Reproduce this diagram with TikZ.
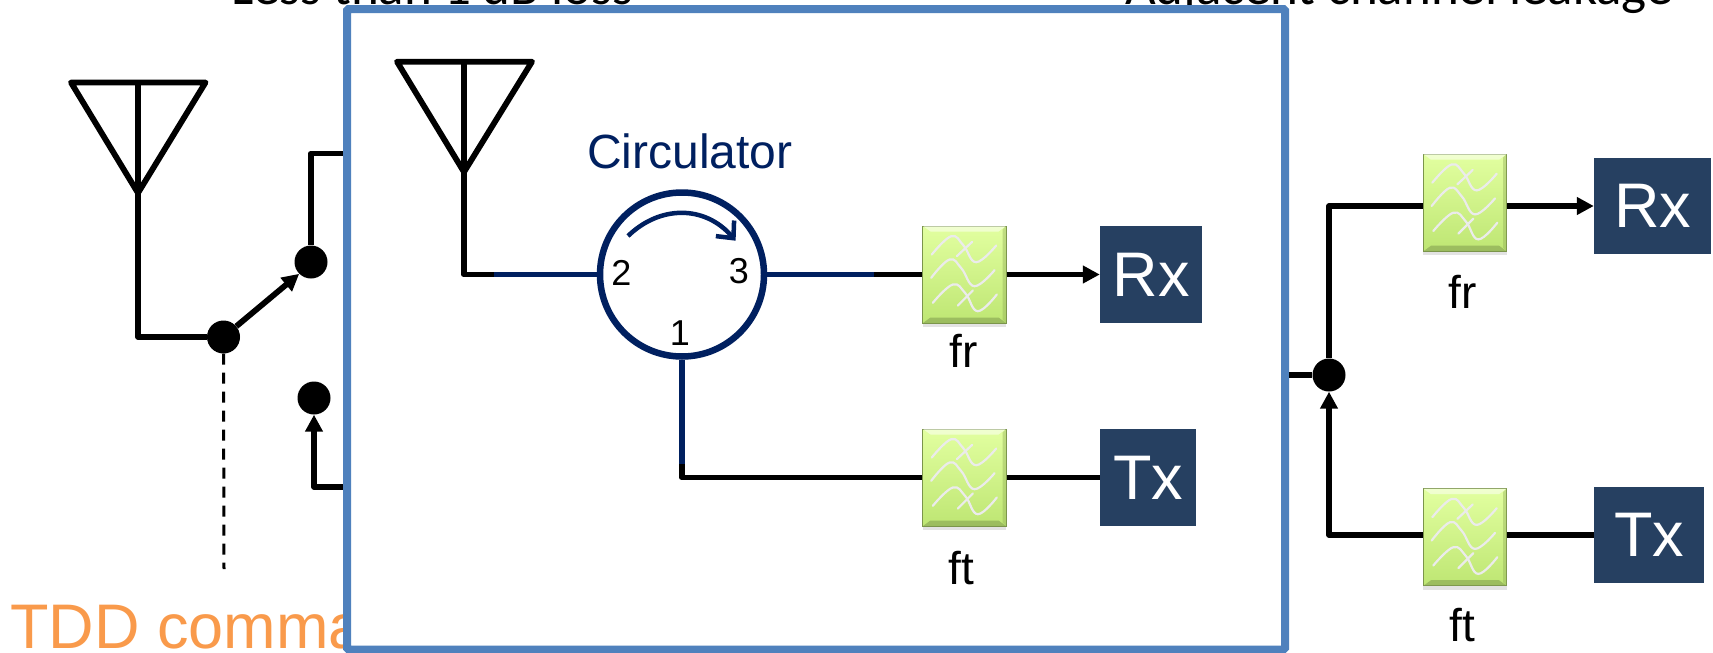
\documentclass[tikz,border=0pt]{standalone}
\usepackage{fontspec}
\setmainfont{Liberation Sans}
\newfontfamily\calibrilike{Carlito}
\usepackage{tikz}
\usetikzlibrary{arrows.meta, positioning, calc, shadows}
\definecolor{cBox}{RGB}{79,129,189}
\definecolor{cNavy}{RGB}{0,32,96}
\definecolor{cSlate}{RGB}{38,64,97}
\definecolor{cOrange}{RGB}{249,154,75}
\definecolor{cFilterTop}{RGB}{226,255,160}
\definecolor{cFilterBot}{RGB}{190,230,115}

\begin{document}
\begin{tikzpicture}[x=1pt, y=-1pt, >={Triangle[length=17pt, width=17pt]},
    wire/.style={line width=5.8pt, line join=round},
    dot/.style={circle, fill=black, inner sep=0pt, minimum size=33pt},
    antenna/.style={line width=5.8pt, line join=round},
    radio/.style={fill=cSlate, text=white, inner sep=0pt, font=\fontsize{63}{63}\selectfont},
    filterbox/.style={rectangle, minimum width=83.5pt, minimum height=97pt, inner sep=0pt,
        top color=cFilterTop, bottom color=cFilterBot, draw=black!35!cFilterBot, line width=0.8pt,
        drop shadow={shadow xshift=0pt, shadow yshift=-4pt, opacity=0.22}},
    wave/.style={draw=white!92!black, line width=2.2pt, line cap=round},
    lbl/.style={anchor=base, inner sep=0pt, font=\fontsize{46}{46}\selectfont},
    port/.style={anchor=base, inner sep=0pt, font=\fontsize{36}{36}\selectfont}]

    \useasboundingbox (0,0) rectangle (1713,653);

    % Headings cut by the top edge
    \node[anchor=base west, inner sep=0pt, font=\calibrilike\fontsize{53}{53}\selectfont] (headLoss) at (231,5) {Less than 1 dB loss};
    \node[anchor=base west, inner sep=0pt, font=\calibrilike\fontsize{53}{53}\selectfont] (headLeak) at (1125,5) {Adjacent channel leakage};

    % TDD switch on the left
    \coordinate (antL) at (138,193);
    \draw [antenna] (antL) -- (71,82.5) -- (205.5,82.5) -- cycle;
    \draw [antenna] (138,82.5) -- (antL);
    \node [dot] (swCom) at (223.5,337) {};
    \node [dot] (swUp) at (311,262) {};
    \node [dot] (swDown) at (314,398) {};
    \draw [wire] (antL) |- (swCom);
    \draw [wire, ->] (swCom) -- (swUp.south west);
    \coordinate (upEnd) at (347,153.5);
    \coordinate (downEnd) at (347,487);
    \draw [wire] (swUp) |- (upEnd);
    \draw [wire, ->] (downEnd) -| (swDown.south);
    \coordinate (cmdEnd) at (224,569);
    \draw [line width=3pt, dash pattern=on 11pt off 8pt] (swCom.south) -- (cmdEnd);
    \node[anchor=base west, inner sep=0pt, text=cOrange, font=\fontsize{63}{63}\selectfont] (cmdText) at (10,648) {TDD command};

    % Main Box
    \draw [draw=cBox, fill=white, line width=8pt, rounded corners=1.5pt,
        drop shadow={shadow xshift=0pt, shadow yshift=-1.5pt, opacity=0.3}] (347,9) rectangle (1285,649.5);

    % Loop to create the 4 filters with their labels
    \foreach \name/\px/\py/\lx/\ly/\txt in {
        frIn/964.5/274.5/964/367/fr,
        ftIn/964.5/477.5/961/584/ft,
        frOut/1465/202.7/1463/308/fr,
        ftOut/1465/537.2/1462/641.7/ft
    } {
        \node [filterbox] (\name) at (\px,\py) {};
        \begin{scope}[shift={(\px,\py)}]
            % Bevel
            \fill [white, opacity=0.5] (-41.5,-48.5) -- (41.5,-48.5) -- (34,-43) -- (-34,-43) -- cycle;
            \fill [black!30!cFilterBot, opacity=0.6] (-41.5,48.5) -- (41.5,48.5) -- (34,43) -- (-34,43) -- cycle;
            \fill [black!25!cFilterBot, opacity=0.4] (41.5,-48.5) -- (41.5,48.5) -- (38,45) -- (38,-45) -- cycle;
            % Three pass bands
            \draw [wave] plot[smooth, tension=0.7] coordinates {(-32.7,-20) (-13.3,-38.3) (-1,-29) (11.7,-12.3) (31.7,-29)};
            \draw [wave] (-7.7,-18.3) -- (7.7,-32.7);
            \draw [wave] plot[smooth, tension=0.7] coordinates {(-33.3,3.3) (-15,-15) (-3,-6) (10,11.7) (30,-4.3)};
            \draw [wave] plot[smooth, tension=0.7] coordinates {(-31.7,28.3) (-11.7,10) (1,19) (13.3,36.7) (32.3,20)};
            \draw [wave] (-6.7,31) -- (8.3,16);
        \end{scope}
        \node [lbl] (\name Lbl) at (\lx,\ly) {\txt};
    }

    % Radios
    \node [radio, minimum width=102pt, minimum height=97pt] (rxIn) at (1151,274.5) {Rx};
    \node [radio, minimum width=96pt, minimum height=97pt] (txIn) at (1148,477.5) {Tx};
    \node [radio, minimum width=117pt, minimum height=96pt] (rxOut) at (1652.5,206) {Rx};
    \node [radio, minimum width=110pt, minimum height=96pt] (txOut) at (1649,535) {Tx};

    % Circulator
    \node [circle, draw=cNavy, fill=white, line width=6.5pt, minimum size=164pt, inner sep=0pt,
        drop shadow={shadow xshift=0pt, shadow yshift=-3pt, opacity=0.22}] (circ) at (682,274.5) {};
    \node [anchor=base, inner sep=0pt, text=cNavy, font=\fontsize{48}{48}\selectfont] (circText) at (690,168) {Circulator};
    \node [port] (portTwo) at (621.5,285) {2};
    \node [port] (portThree) at (739,283) {3};
    \node [port] (portOne) at (680,345) {1};
    \coordinate (spinA) at (628,236);
    \coordinate (spinB) at (735.6,240.7);
    \draw [cNavy, line width=4.5pt, -{Straight Barb[length=13pt, width=24pt]}] (spinA) .. controls (660,205) and (705,205) .. (spinB);

    % Antenna of the inner picture
    \coordinate (antC) at (464,172);
    \draw [antenna] (antC) -- (397,61.7) -- (532,61.7) -- cycle;
    \draw [antenna] (464,61.7) -- (antC);

    % Wires of the inner picture
    \coordinate (antTurn) at (464,274.5);
    \coordinate (navyA) at (494,274.5);
    \coordinate (navyB) at (874,274.5);
    \coordinate (navyC) at (682,464);
    \draw [wire] (antC) -- (antTurn) -- (navyA);
    \draw [wire, cNavy] (navyA) -- (circ.west);
    \draw [wire, cNavy] (circ.east) -- (navyB);
    \draw [wire] (navyB) -- (frIn.west);
    \draw [wire, ->] (frIn.east) -- (rxIn.west);
    \draw [wire, cNavy] (circ.south) -- (navyC);
    \draw [wire] (navyC) |- (ftIn.west);
    \draw [wire] (ftIn.east) -- (txIn.west);

    % Duplexer on the right
    \node [dot] (joint) at (1329,375) {};
    \coordinate (boxEdge) at (1289,375);
    \draw [wire] (boxEdge) -- (joint);
    \draw [wire] (joint) |- ([yshift=-3.3pt]frOut.west);
    \draw [wire, ->] ([yshift=-3.3pt]frOut.east) -- (rxOut.west);
    \draw [wire, ->] ([yshift=2.2pt]ftOut.west) -| (joint.south);
    \draw [wire] ([yshift=2.2pt]ftOut.east) -- (txOut.west);
\end{tikzpicture}
\end{document}
